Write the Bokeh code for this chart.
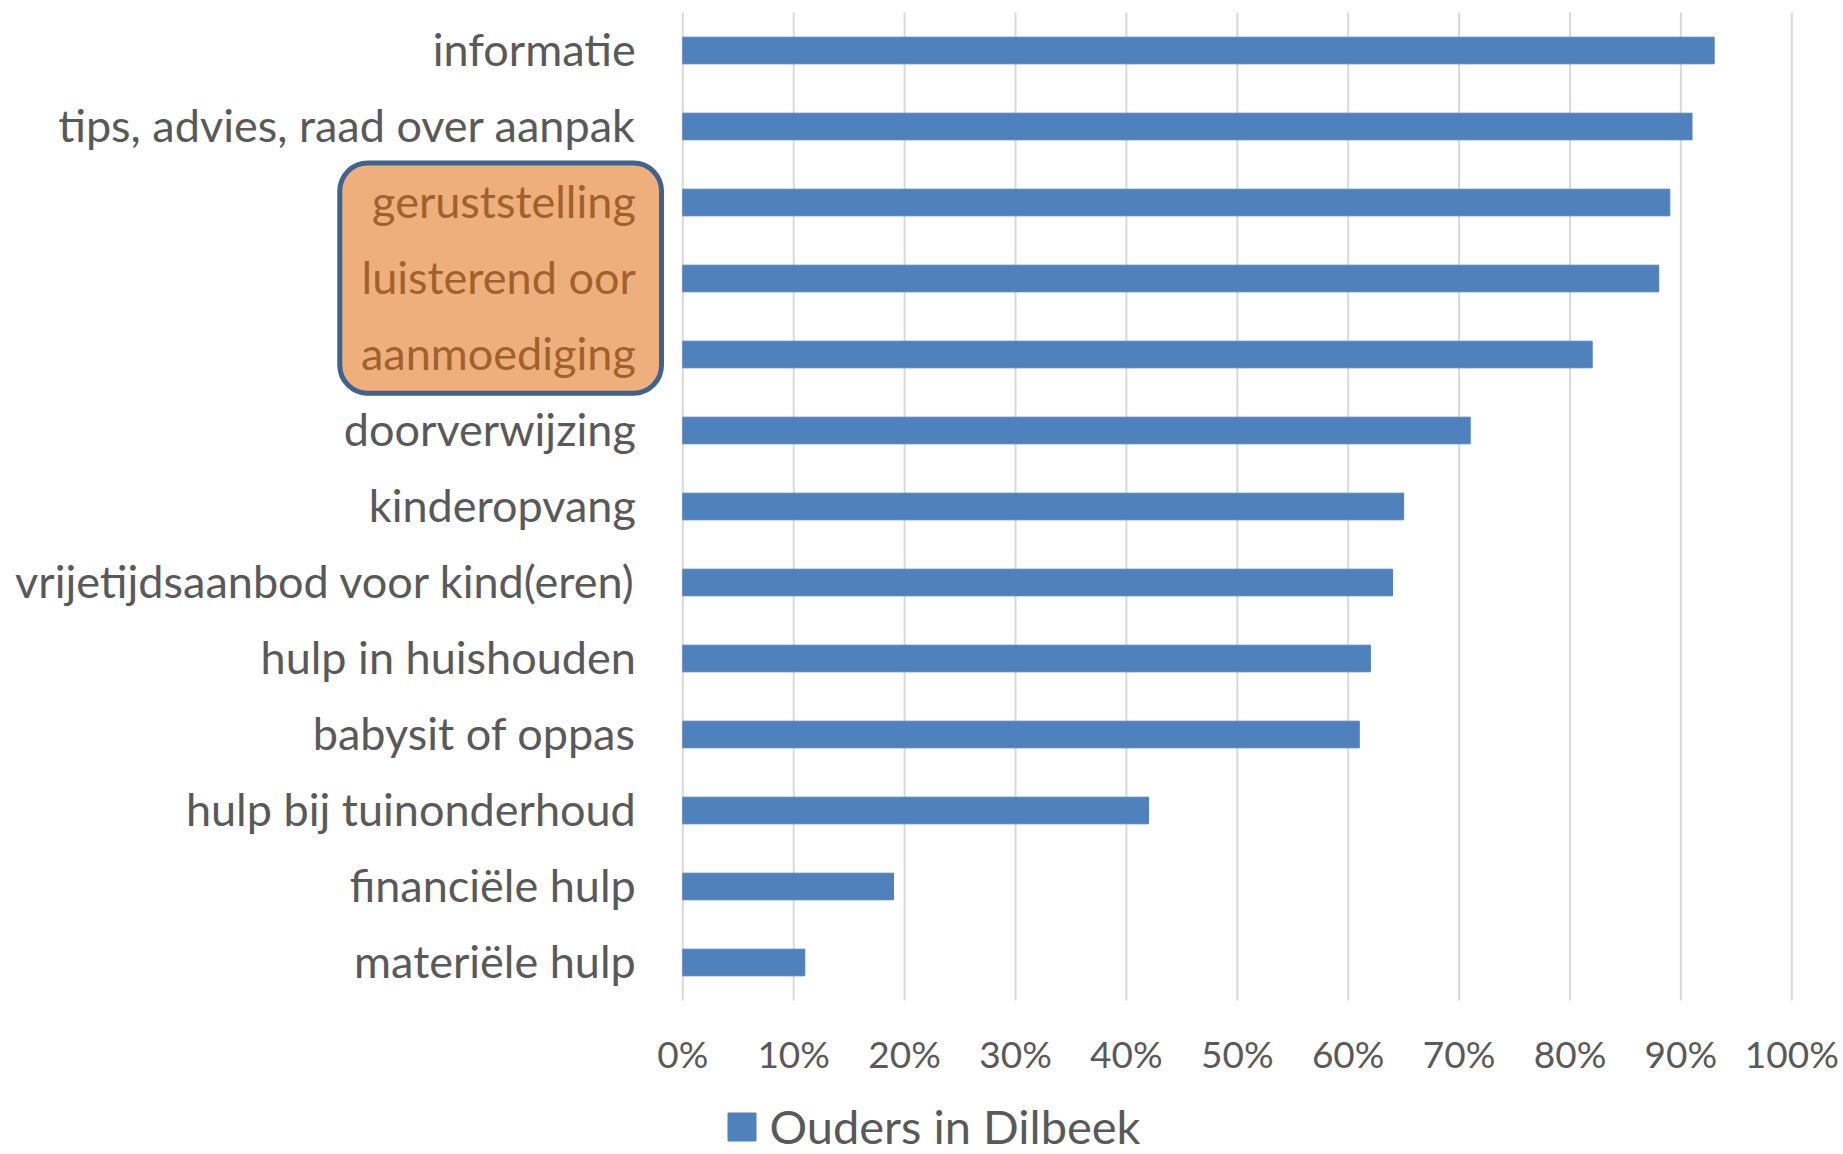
from bokeh.plotting import figure
from bokeh.models import (Range1d, Legend, LegendItem, BoxAnnotation,
                          ColumnDataSource)
from bokeh.core.properties import value
from bokeh.embed import file_html
from bokeh.resources import INLINE

# ---- data ----
categories = ["informatie", "tips, advies, raad over aanpak", "geruststelling",
              "luisterend oor", "aanmoediging", "doorverwijzing", "kinderopvang",
              "vrijetijdsaanbod voor kind(eren)", "hulp in huishouden",
              "babysit of oppas", "hulp bij tuinonderhoud", "financiële hulp",
              "materiële hulp"]
values = [0.93, 0.91, 0.89, 0.88, 0.82, 0.71, 0.65, 0.64, 0.62, 0.61, 0.42, 0.19, 0.11]
highlighted = ["geruststelling", "luisterend oor", "aanmoediging"]
x_ticks = [0.0, 0.1, 0.2, 0.3, 0.4, 0.5, 0.6, 0.7, 0.8, 0.9, 1.0]
x_tick_labels = ["0%", "10%", "20%", "30%", "40%", "50%", "60%", "70%", "80%", "90%", "100%"]
series_name = "Ouders in Dilbeek"

FONT = "Lato"
GREY = "#595959"
BROWN = "#A0612D"
BAR = "#4F81BD"
GRID = "#D9D9D9"

n = len(categories)
ypos = [n - 1 - i for i in range(n)]

W, H = 1843, 1154
PX_X = 1109.0          # pixels per 100 %
PX_Y = 76.0            # pixels per category
X_START = -682.3 / PX_X
X_END = (W - 682.3) / PX_X
Y_END = (n - 0.5) + 12 / PX_Y
Y_START = Y_END - H / PX_Y

p = figure(width=W, height=H, output_backend="svg", toolbar_location=None,
           x_range=Range1d(X_START, X_END), y_range=Range1d(Y_START, Y_END),
           x_axis_location=None, y_axis_location=None,
           min_border=0)
p.outline_line_color = None
p.background_fill_color = "white"
p.xgrid.grid_line_color = None
p.ygrid.grid_line_color = None

# vertical gridlines at the value ticks, spanning the category area
gsrc = ColumnDataSource(dict(t=x_ticks, lab=x_tick_labels))
p.segment(x0="t", x1="t", y0=-0.5, y1=n - 0.5, line_color=GRID,
          line_width=2, source=gsrc, level="underlay")

src = ColumnDataSource(dict(
    y=ypos, v=values, cat=categories,
    col=[BROWN if c in highlighted else GREY for c in categories]))

r = p.hbar(y="y", right="v", left=0, height=0.35, fill_color=BAR,
           line_color=BAR, line_width=1, source=src)

# highlight box around three labels
hl_pos = [y for y, c in zip(ypos, categories) if c in highlighted]
box = BoxAnnotation(left=-0.3093, right=-0.0192,
                    bottom=min(hl_pos) - 0.51, top=max(hl_pos) + 0.52,
                    fill_color="#EFAF7C", fill_alpha=1.0,
                    line_color="#3F6391", line_alpha=1.0, line_width=5,
                    border_radius=28, level="underlay")
p.add_layout(box)

# category labels (left of the zero line)
p.text(x=0, y="y", text="cat", x_offset=-47, y_offset=-2, text_align="right",
       text_baseline="middle", text_font=value(FONT), text_font_size="45px",
       text_color="col", source=src)

# value-axis tick labels below the category area
p.text(x="t", y=-0.5 - 53 / PX_Y, text="lab", text_align="center",
       text_baseline="middle", text_font=value(FONT), text_font_size="37px",
       text_color=GREY, source=gsrc)

legend = Legend(items=[LegendItem(label=series_name, renderers=[r])],
                location=(723.5, 0), orientation="horizontal",
                glyph_width=35, glyph_height=35, label_standoff=11,
                label_text_font=FONT, label_text_font_size="47px",
                label_text_color=GREY, border_line_color=None,
                background_fill_alpha=0, padding=0, margin=0,
                label_height=28)
p.add_layout(legend)

open("out.html", "w").write(file_html(p, INLINE))
